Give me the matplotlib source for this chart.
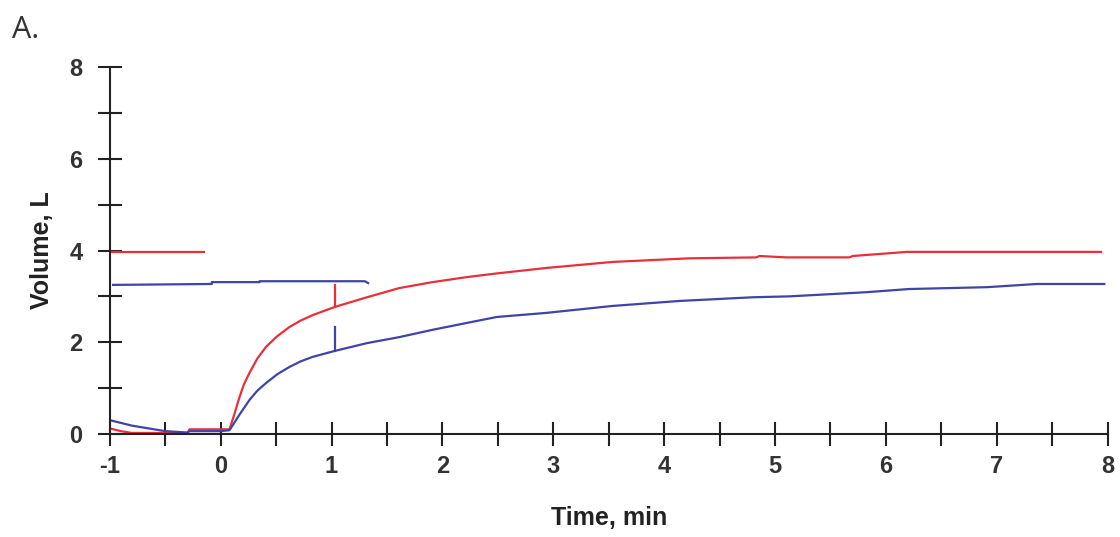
import matplotlib.pyplot as plt
import matplotlib.ticker as ticker

plt.rcParams['axes.unicode_minus'] = False

red_color = '#e8303a'
blue_color = '#3f44a6'

# red trace
red_t = [-1.0, -0.9, -0.8, -0.5, -0.3, -0.28, 0.0, 0.08, 0.12, 0.17, 0.21, 0.26, 0.33, 0.41, 0.51,
         0.62, 0.72, 0.83, 1.03, 1.32, 1.61, 1.91, 2.22, 2.49, 2.94, 3.53, 4.23, 4.83, 4.86,
         5.1, 5.67, 5.7, 6.19, 7.94]
red_v = [0.12, 0.06, 0.02, 0.02, 0.02, 0.1, 0.1, 0.1, 0.4, 0.8, 1.08, 1.33, 1.64, 1.9, 2.13,
         2.33, 2.47, 2.59, 2.77, 2.98, 3.18, 3.31, 3.42, 3.5, 3.62, 3.75, 3.83, 3.85, 3.88,
         3.85, 3.85, 3.88, 3.97, 3.97]

# blue trace
blue_t = [-1.0, -0.8, -0.5, -0.3, -0.28, 0.0, 0.08, 0.17, 0.26, 0.33, 0.41, 0.51, 0.62, 0.72,
          0.83, 1.03, 1.32, 1.61, 1.91, 2.22, 2.49, 2.94, 3.53, 4.14, 4.8, 5.13, 5.82, 6.21,
          6.91, 7.36, 7.97]
blue_v = [0.3, 0.18, 0.06, 0.03, 0.06, 0.06, 0.08, 0.42, 0.74, 0.94, 1.11, 1.3, 1.46, 1.58,
          1.68, 1.81, 1.98, 2.11, 2.27, 2.42, 2.55, 2.64, 2.79, 2.9, 2.98, 3.0, 3.09, 3.16,
          3.2, 3.27, 3.27]

# baseline reference lines drawn at the top-left
red_ref_t = [-1.0, -0.15]
red_ref_v = [3.97, 3.97]
blue_ref_t = [-0.97, -0.08, -0.08, 0.35, 0.35, 1.30, 1.33]
blue_ref_v = [3.25, 3.27, 3.31, 3.31, 3.33, 3.33, 3.29]

# vertical markers at 1 min
red_mark_t = [1.03, 1.03]
red_mark_v = [2.77, 3.25]
blue_mark_t = [1.03, 1.03]
blue_mark_v = [1.81, 2.33]

x_ticks = [-1, 0, 1, 2, 3, 4, 5, 6, 7, 8]
y_ticks = [0, 2, 4, 6, 8]

fig = plt.figure(figsize=(11.2, 5.37), dpi=100)
fig.set_facecolor('white')
ax = fig.add_axes([0.098, 0.192, 0.891, 0.683])

ax.plot(red_t, red_v, color=red_color, lw=1.6)
ax.plot(blue_t, blue_v, color=blue_color, lw=1.6)
ax.plot(red_ref_t, red_ref_v, color=red_color, lw=1.6)
ax.plot(blue_ref_t, blue_ref_v, color=blue_color, lw=1.6)
ax.plot(red_mark_t, red_mark_v, color=red_color, lw=1.6)
ax.plot(blue_mark_t, blue_mark_v, color=blue_color, lw=1.6)

ax.set_xlim(-1, 8)
ax.set_ylim(0, 8)
ax.spines['right'].set_visible(False)
ax.spines['top'].set_visible(False)
for s in ['left', 'bottom']:
    ax.spines[s].set_linewidth(1.5)
    ax.spines[s].set_color('#222222')

ax.set_xticks(x_ticks)
ax.set_yticks(y_ticks)
ax.xaxis.set_minor_locator(ticker.MultipleLocator(0.5))
ax.yaxis.set_minor_locator(ticker.MultipleLocator(1))
ax.tick_params(which='both', direction='inout', length=17, width=1.5, color='#222222')
ax.tick_params(axis='x', pad=7)
ax.tick_params(axis='y', pad=11)

for lab in ax.get_xticklabels() + ax.get_yticklabels():
    lab.set_family('Liberation Sans')
    lab.set_fontweight('bold')
    lab.set_fontsize(17)
    lab.set_color('#333333')

ax.set_xlabel('Time, min', fontsize=18, fontweight='bold', color='#222222',
              family='Liberation Sans', labelpad=20)
ax.set_ylabel('Volume, L', fontsize=18, fontweight='bold', color='#222222',
              family='Liberation Sans', labelpad=11)

fig.text(0.011, 0.93, 'A.', fontsize=22, color='#333333', family='Open Sans')

fig.savefig('out.png', dpi=100)
